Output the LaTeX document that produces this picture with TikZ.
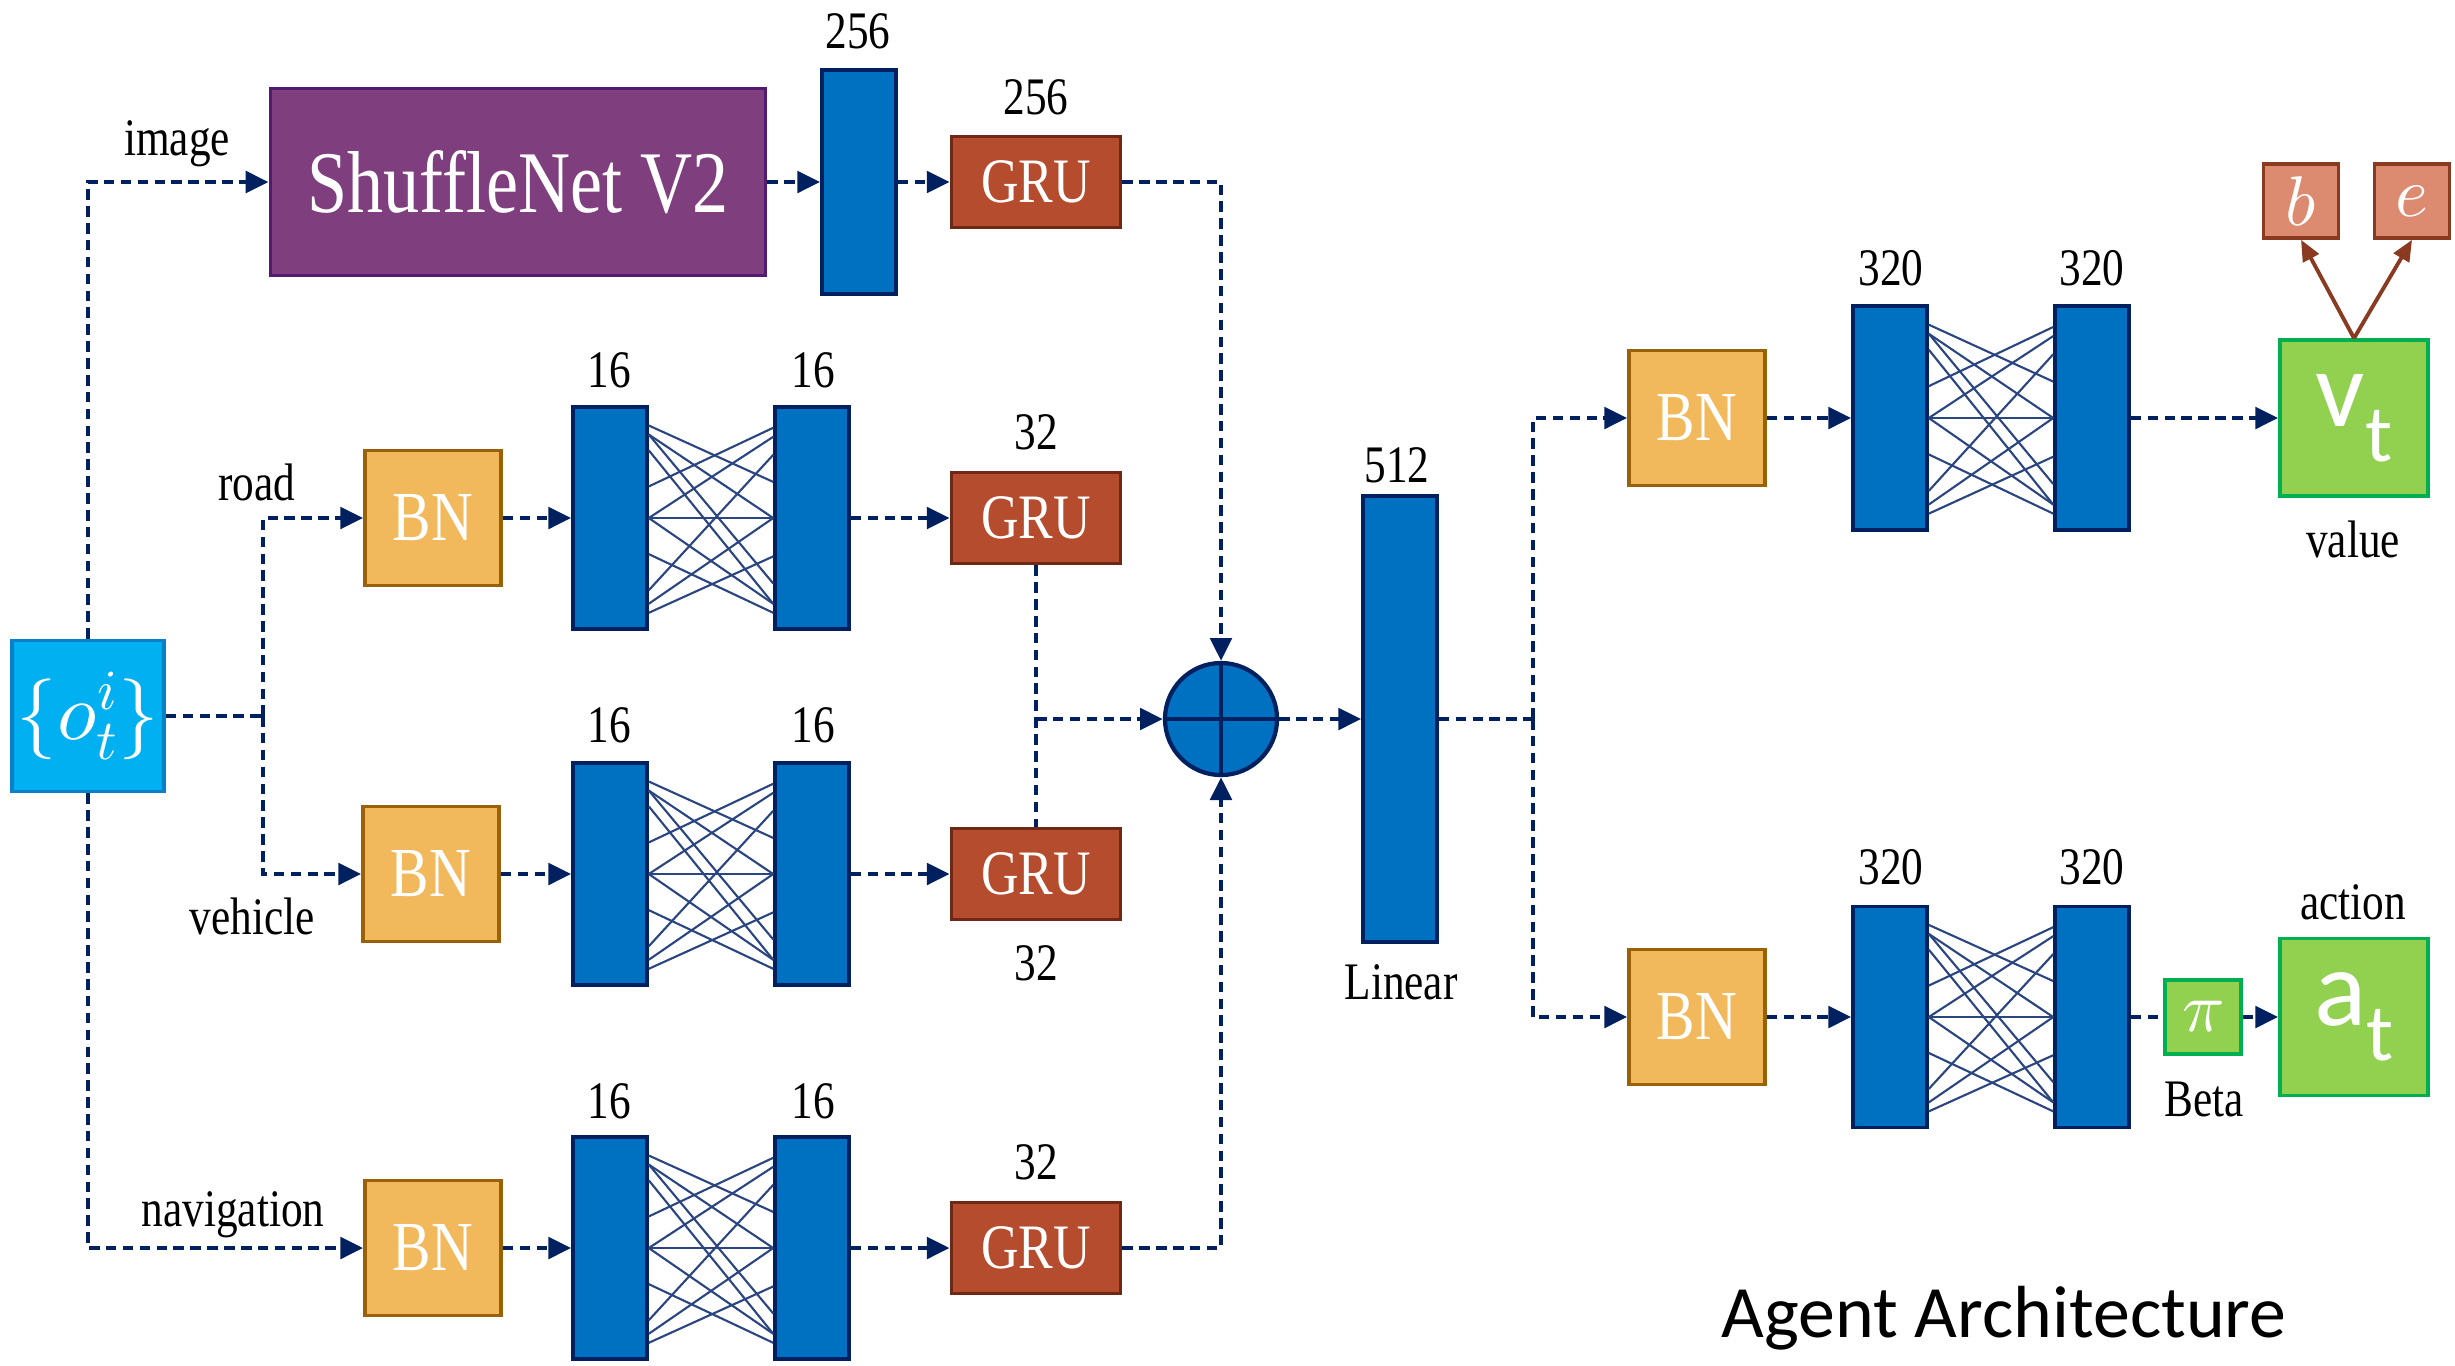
\documentclass[tikz,border=0pt]{standalone}
\usepackage{fontspec}
\usepackage{unicode-math}
\setmathfont{Latin Modern Math}
\setmainfont[FakeStretch=0.82]{Liberation Serif}
\newfontfamily\calib{Carlito}
\usetikzlibrary{arrows.meta,calc}
\definecolor{cNavy}{HTML}{002060}
\definecolor{cBar}{HTML}{0070C0}
\definecolor{cFC}{HTML}{2A4580}
\definecolor{cBN}{HTML}{F2B85C}
\definecolor{cBNd}{HTML}{9A6208}
\definecolor{cGRU}{HTML}{B44C2D}
\definecolor{cGRUd}{HTML}{6E2816}
\definecolor{cShuf}{HTML}{7F3F7F}
\definecolor{cShufD}{HTML}{531A72}
\definecolor{cObs}{HTML}{00B0F0}
\definecolor{cObsD}{HTML}{0A80C8}
\definecolor{cGreen}{HTML}{92D050}
\definecolor{cGreenD}{HTML}{00B050}
\definecolor{cSal}{HTML}{DD8B70}
\definecolor{cSalD}{HTML}{8A3A20}
\tikzset{
  box/.style={draw, line width=1pt, inner sep=0pt, anchor=center},
  bar/.style={box, fill=cBar, draw=cNavy, minimum width=0.74cm, minimum height=2.22cm},
  bn/.style={box, fill=cBN, draw=cBNd, minimum width=1.36cm, minimum height=1.35cm, text=white, font=\fontsize{20}{22}\selectfont},
  gru/.style={box, fill=cGRU, draw=cGRUd, minimum width=1.69cm, minimum height=0.91cm, text=white, font=\fontsize{18}{20}\selectfont},
  grn/.style={box, fill=cGreen, draw=cGreenD, text=white},
  sal/.style={box, fill=cSal, draw=cSalD, minimum width=0.75cm, minimum height=0.74cm, text=white, font=\fontsize{20}{22}\selectfont},
  lbl/.style={font=\fontsize{15}{17}\selectfont, inner sep=0pt},
  flow/.style={draw=cNavy, line width=1.4pt, dash pattern=on 3pt off 1.8pt},
  arr/.style={flow, -{Triangle[length=6.5pt,width=6pt]}},
  brarr/.style={draw=cSalD, line width=1.1pt, -{Triangle[length=6pt,width=5pt]}},
  fc/.style={draw=cFC, line width=0.6pt},
}
\newcommand\fcnet[2]{%
  \foreach \pa/\pb in {0.09/0.34,0.13/0.79,0.2/0.88,0.36/0.1,0.5/0.14,0.5/0.5,0.5/0.88,0.66/0.92,0.82/0.22,0.92/0.67,0.13/0.5,0.88/0.5}{%
    \draw[fc] ($(#1.north east)!\pa!(#1.south east)$) -- ($(#2.north west)!\pb!(#2.south west)$);}}
\begin{document}
\begin{tikzpicture}[x=0.01cm,y=-0.01cm]
\useasboundingbox (0,0) rectangle (2455,1365);
\fill[white] (0,0) rectangle (2455,1365);

% input
\node[box, fill=cObs, draw=cObsD, minimum width=1.52cm, minimum height=1.51cm, text=white, font=\fontsize{23}{26}\selectfont] (obs) at (88,716) {$\{o_t^i\}$};

% image row
\node[box, fill=cShuf, draw=cShufD, minimum width=4.95cm, minimum height=1.87cm, text=white, font=\fontsize{25}{28}\selectfont] (shuf) at (518,182) {ShuffleNet V2};
\node[bar, minimum height=2.24cm] (b256) at (859,182) {};
\node[gru] (gruI) at (1036,182) {GRU};

% road row
\node[bn] (bnR) at (433,518) {BN};
\node[bar] (r1) at (610,518) {};
\node[bar] (r2) at (812,518) {};
\node[gru] (gruR) at (1036,518) {GRU};

% vehicle row
\node[bn] (bnV) at (431,874) {BN};
\node[bar] (v1) at (610,874) {};
\node[bar] (v2) at (812,874) {};
\node[gru] (gruV) at (1036,874) {GRU};

% navigation row
\node[bn] (bnN) at (433,1248) {BN};
\node[bar] (n1) at (610,1248) {};
\node[bar] (n2) at (812,1248) {};
\node[gru] (gruN) at (1036,1248) {GRU};

% sum and linear
\node[circle, fill=cBar, draw=cNavy, line width=1.2pt, minimum size=1.12cm, inner sep=0pt] (sum) at (1221,719) {};
\draw[cNavy, line width=1.2pt] (sum.north) -- (sum.south) (sum.west) -- (sum.east);
\node[bar, minimum height=4.46cm] (lin) at (1400,719) {};

% value head
\node[bn] (bnU) at (1697,418) {BN};
\node[bar, minimum height=2.24cm] (u1) at (1890,418) {};
\node[bar, minimum height=2.24cm] (u2) at (2092,418) {};
\node[grn, minimum width=1.48cm, minimum height=1.56cm, font=\calib\fontsize{31}{32}\selectfont] (vt) at (2354,418) {v\raisebox{-0.32em}{\fontsize{23}{23}\selectfont t}};
\node[sal] (bb) at (2301,201) {$b$};
\node[sal] (ee) at (2412,201) {$e$};

% action head
\node[bn] (bnL) at (1697,1017) {BN};
\node[bar, minimum height=2.21cm] (l1) at (1890,1017) {};
\node[bar, minimum height=2.21cm] (l2) at (2092,1017) {};
\node[grn, minimum width=0.76cm, minimum height=0.74cm, font=\fontsize{20}{22}\selectfont] (pi) at (2203,1017) {$\pi$};
\node[grn, minimum width=1.48cm, minimum height=1.57cm, font=\calib\fontsize{31}{32}\selectfont] (at) at (2354,1017) {a\raisebox{-0.32em}{\fontsize{23}{23}\selectfont t}};

% fully connected patterns
\fcnet{r1}{r2}
\fcnet{v1}{v2}
\fcnet{n1}{n2}
\fcnet{u1}{u2}
\fcnet{l1}{l2}

% connectors
\coordinate (br) at (263,716);
\draw[arr] (obs.north) |- (shuf.west);
\draw[arr] (obs.south) |- (bnN.west);
\draw[flow] (obs.east) -- (br);
\draw[arr] (br) |- (bnR.west);
\draw[arr] (br) |- (bnV.west);
\draw[arr] (shuf.east) -- (b256.west);
\draw[arr] (b256.east) -- (gruI.west);
\draw[arr] (gruI.east) -| (sum.north);
\draw[arr] (bnR.east) -- (r1.west);
\draw[arr] (r2.east) -- (gruR.west);
\draw[arr] (bnV.east) -- (v1.west);
\draw[arr] (v2.east) -- (gruV.west);
\draw[arr] (bnN.east) -- (n1.west);
\draw[arr] (n2.east) -- (gruN.west);
\draw[flow] (gruR.south) -- (gruV.north);
\coordinate (jn) at (gruR.south |- sum.west);
\draw[arr] (jn) -- (sum.west);
\draw[arr] (gruN.east) -| (sum.south);
\draw[arr] (sum.east) -- (lin.west);
\coordinate (br2) at (1533,719);
\draw[flow] (lin.east) -- (br2);
\draw[arr] (br2) |- (bnU.west);
\draw[arr] (br2) |- (bnL.west);
\draw[arr] (bnU.east) -- (u1.west);
\draw[arr] (u2.east) -- (vt.west);
\draw[arr] (bnL.east) -- (l1.west);
\draw[flow] (l2.east) -- (pi.west);
\draw[arr] (pi.east) -- (at.west);
\draw[brarr] (vt.north) -- (bb.south);
\draw[brarr] (vt.north) -- (ee.south);

% labels
\node[lbl] (tImg) at (177,144) {image};
\node[lbl] (tRoad) at (257,482) {road};
\node[lbl] (tVeh) at (252,916) {vehicle};
\node[lbl] (tNav) at (233,1215) {navigation};
\node[lbl] (t256a) at (858,31) {256};
\node[lbl] (t256b) at (1036,97) {256};
\node[lbl] (tr1) at (609,370) {16};
\node[lbl] (tr2) at (813,370) {16};
\node[lbl] (tr3) at (1036,432) {32};
\node[lbl] (tv1) at (609,725) {16};
\node[lbl] (tv2) at (813,725) {16};
\node[lbl] (tv3) at (1036,963) {32};
\node[lbl] (tn1) at (609,1101) {16};
\node[lbl] (tn2) at (813,1101) {16};
\node[lbl] (tn3) at (1036,1162) {32};
\node[lbl] (t512) at (1397,465) {512};
\node[lbl] (tLin) at (1401,982) {Linear};
\node[lbl] (tu1) at (1891,268) {320};
\node[lbl] (tu2) at (2092,268) {320};
\node[lbl] (tl1) at (1891,867) {320};
\node[lbl] (tl2) at (2092,867) {320};
\node[lbl] (tVal) at (2353,539) {value};
\node[lbl] (tAct) at (2353,902) {action};
\node[lbl] (tBeta) at (2204,1099) {Beta};
\node[font=\calib\fontsize{21}{24}\selectfont, inner sep=0pt] (title) at (2004,1318) {Agent Architecture};
\end{tikzpicture}
\end{document}
